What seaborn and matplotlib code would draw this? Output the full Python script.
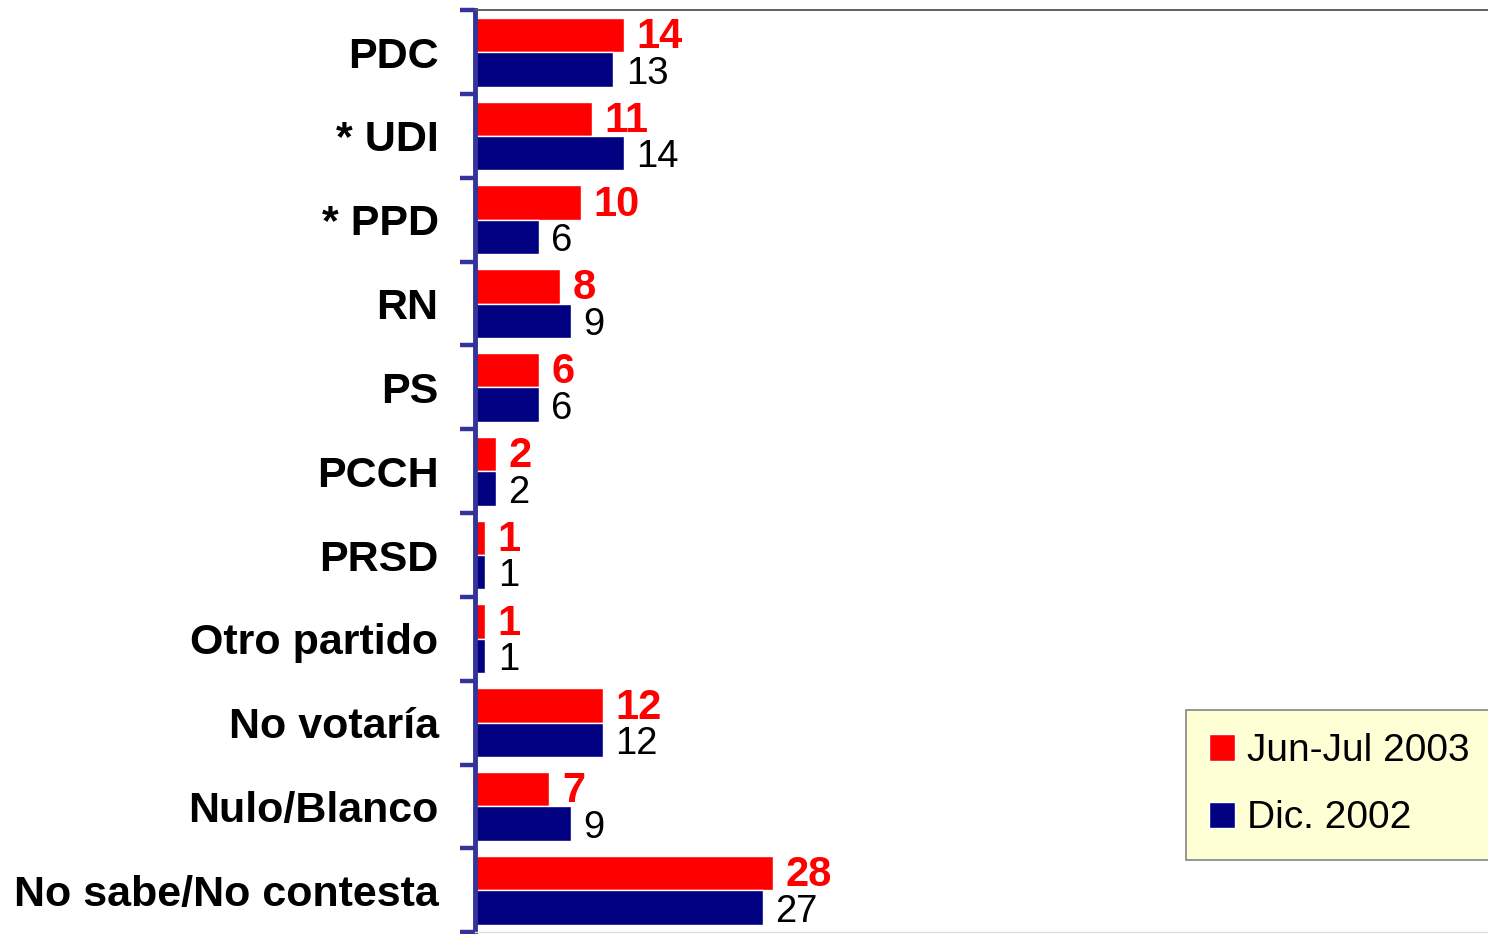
import numpy as np
import pandas as pd
import matplotlib
matplotlib.use('Agg')
import matplotlib.pyplot as plt
from matplotlib.ticker import FixedLocator
import seaborn as sns

# data
partidos = ['PDC', '* UDI', '* PPD', 'RN', 'PS', 'PCCH', 'PRSD', 'Otro partido',
            'No votaría', 'Nulo/Blanco', 'No sabe/No contesta']
jun_jul_2003 = [14, 11, 10, 8, 6, 2, 1, 1, 12, 7, 28]
dic_2002 = [13, 14, 6, 9, 6, 2, 1, 1, 12, 9, 27]
series = ['Jun-Jul 2003', 'Dic. 2002']
colores = ['#FF0000', '#000080']

df = pd.DataFrame({
    'partido': partidos * 2,
    'valor': jun_jul_2003 + dic_2002,
    'serie': [series[0]] * len(partidos) + [series[1]] * len(partidos),
})

sns.set_style('white')
plt.rcParams['font.family'] = ['Liberation Sans', 'DejaVu Sans']
plt.rcParams['text.color'] = 'black'
plt.rcParams['ytick.color'] = 'black'

fig = plt.figure(figsize=(14.88, 9.34), dpi=100)
ax = fig.add_axes([0.319, 0.002, 0.681, 0.987])

sns.barplot(data=df, y='partido', x='valor', hue='serie', order=partidos,
            hue_order=series, palette=colores, orient='h', width=0.82,
            saturation=1, ax=ax)

ax.set_xlim(0, 95)
ax.set_ylim(len(partidos) - 0.5, -0.5)
ax.set_xlabel('')
ax.set_ylabel('')
ax.set_xticks([])

# value labels
rojos = ax.bar_label(ax.containers[0], padding=9, color='#FF0000', fontsize=30,
                     fontweight='bold')
negros = ax.bar_label(ax.containers[1], padding=9, color='black', fontsize=27.5)
for t in rojos:
    t.xyann = (9, -1.5)
for t in negros:
    t.xyann = (9, -3)

# category labels, ticks at the boundaries
ax.tick_params(axis='y', which='major', length=0, pad=26, labelsize=31,
               labelcolor='black')
for t in ax.get_yticklabels():
    t.set_fontweight('bold')
ax.yaxis.set_minor_locator(FixedLocator(np.arange(-0.5, len(partidos), 1.0)))
ax.tick_params(axis='y', which='minor', length=11, width=3.2, color='#333399',
               direction='out', left=True)

for side in ['left', 'top', 'bottom']:
    ax.spines[side].set_visible(True)
ax.spines['left'].set_color('#333399')
ax.spines['left'].set_linewidth(3.5)
ax.spines['top'].set_color('#555555')
ax.spines['top'].set_linewidth(1.3)
ax.spines['bottom'].set_color('#dddddd')
ax.spines['bottom'].set_linewidth(1)
ax.spines['right'].set_visible(False)

leg = ax.legend(loc='upper left', bbox_to_anchor=(0.702, 0.241), fontsize=28,
                frameon=True, fancybox=False, facecolor='#FFFFCC',
                edgecolor='#666666', handlelength=0.67, handleheight=0.67,
                handletextpad=0.3, labelspacing=0.8, borderpad=0.6,
                borderaxespad=0)
leg.get_frame().set_linewidth(1.2)

fig.savefig('out.png', dpi=100)
